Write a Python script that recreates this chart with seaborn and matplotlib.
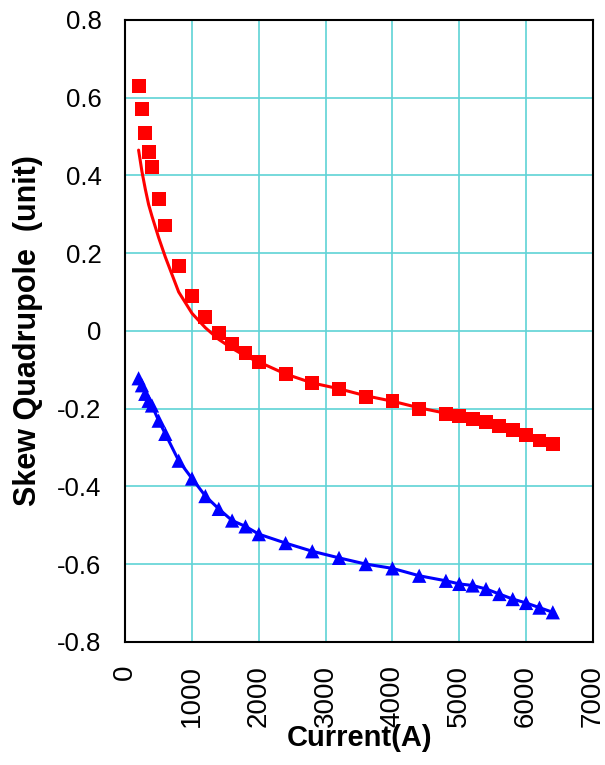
import matplotlib
matplotlib.use("Agg")
import matplotlib.pyplot as plt
import seaborn as sns
import pandas as pd

# current steps (A)
current = [200, 250, 300, 350, 400, 500, 600, 800, 1000, 1200, 1400, 1600, 1800, 2000,
           2400, 2800, 3200, 3600, 4000, 4400, 4800, 5000, 5200, 5400, 5600, 5800,
           6000, 6200, 6400]

# measured skew quadrupole, red squares
red_meas = [0.630, 0.570, 0.509, 0.460, 0.421, 0.340, 0.271, 0.166, 0.089, 0.035,
            -0.005, -0.034, -0.057, -0.080, -0.111, -0.134, -0.149, -0.170, -0.181,
            -0.200, -0.215, -0.219, -0.227, -0.235, -0.244, -0.256, -0.268, -0.282, -0.292]

# red curve
red_fit = [0.465, 0.41, 0.365, 0.325, 0.295, 0.24, 0.19, 0.10, 0.045, 0.008,
           -0.022, -0.045, -0.065, -0.080, -0.111, -0.134, -0.149, -0.167, -0.181,
           -0.198, -0.212, -0.219, -0.227, -0.235, -0.244, -0.256, -0.268, -0.280, -0.290]

# blue triangles
blue_meas = [-0.122, -0.14, -0.162, -0.180, -0.192, -0.231, -0.265, -0.334, -0.380,
             -0.425, -0.458, -0.488, -0.503, -0.523, -0.546, -0.567, -0.584, -0.600,
             -0.611, -0.630, -0.643, -0.651, -0.655, -0.664, -0.677, -0.690, -0.700,
             -0.712, -0.724]

y_ticks = [-0.8, -0.6, -0.4, -0.2, 0, 0.2, 0.4, 0.6, 0.8]
y_ticklabels = ["-0.8", "-0.6", "-0.4", "-0.2", "0", "0.2", "0.4", "0.6", "0.8"]

df = pd.DataFrame({"current": current, "red": red_meas, "red_fit": red_fit, "blue": blue_meas})

sns.set_style("white")
plt.rcParams['font.family'] = ['Liberation Sans', 'DejaVu Sans']
plt.rcParams.update({"text.color": "black", "axes.labelcolor": "black",
                     "xtick.color": "black", "ytick.color": "black"})

fig, ax = plt.subplots(figsize=(6.05, 7.65), dpi=100)
fig.subplots_adjust(left=0.207, right=0.980, top=0.974, bottom=0.161)

# curves
sns.lineplot(data=df, x="current", y="red_fit", color="#ff0000", linewidth=2.2, ax=ax)
sns.lineplot(data=df, x="current", y="blue", color="#0000ff", linewidth=2.2, ax=ax)

# data points
sns.scatterplot(data=df, x="current", y="red", marker="s", s=100, color="#ff0000",
                edgecolor="none", ax=ax, zorder=3)
sns.scatterplot(data=df, x="current", y="blue", marker="^", s=105, color="#0000ff",
                edgecolor="none", ax=ax, zorder=3)

ax.set_xlim(0, 7000)
ax.set_ylim(-0.8, 0.8)
ax.set_xticks(range(0, 7001, 1000))
ax.set_yticks(y_ticks)
ax.set_yticklabels(y_ticklabels)
ax.tick_params(axis="x", labelrotation=90, labelsize=20, direction="inout", length=15,
               width=1.2, pad=9)
ax.tick_params(axis="y", labelsize=18.5, direction="out", length=7, width=1.2, pad=10)

ax.grid(True, color="#5fd3d6", linewidth=1.2)
ax.set_axisbelow(True)
for sp in ax.spines.values():
    sp.set_color("black")
    sp.set_linewidth(1.5)

ax.set_xlabel("Current(A)", fontsize=21, fontweight="bold", labelpad=-2)
ax.set_ylabel("Skew Quadrupole  (unit)", fontsize=22, fontweight="bold", labelpad=10)

fig.savefig("out.png", dpi=100)
